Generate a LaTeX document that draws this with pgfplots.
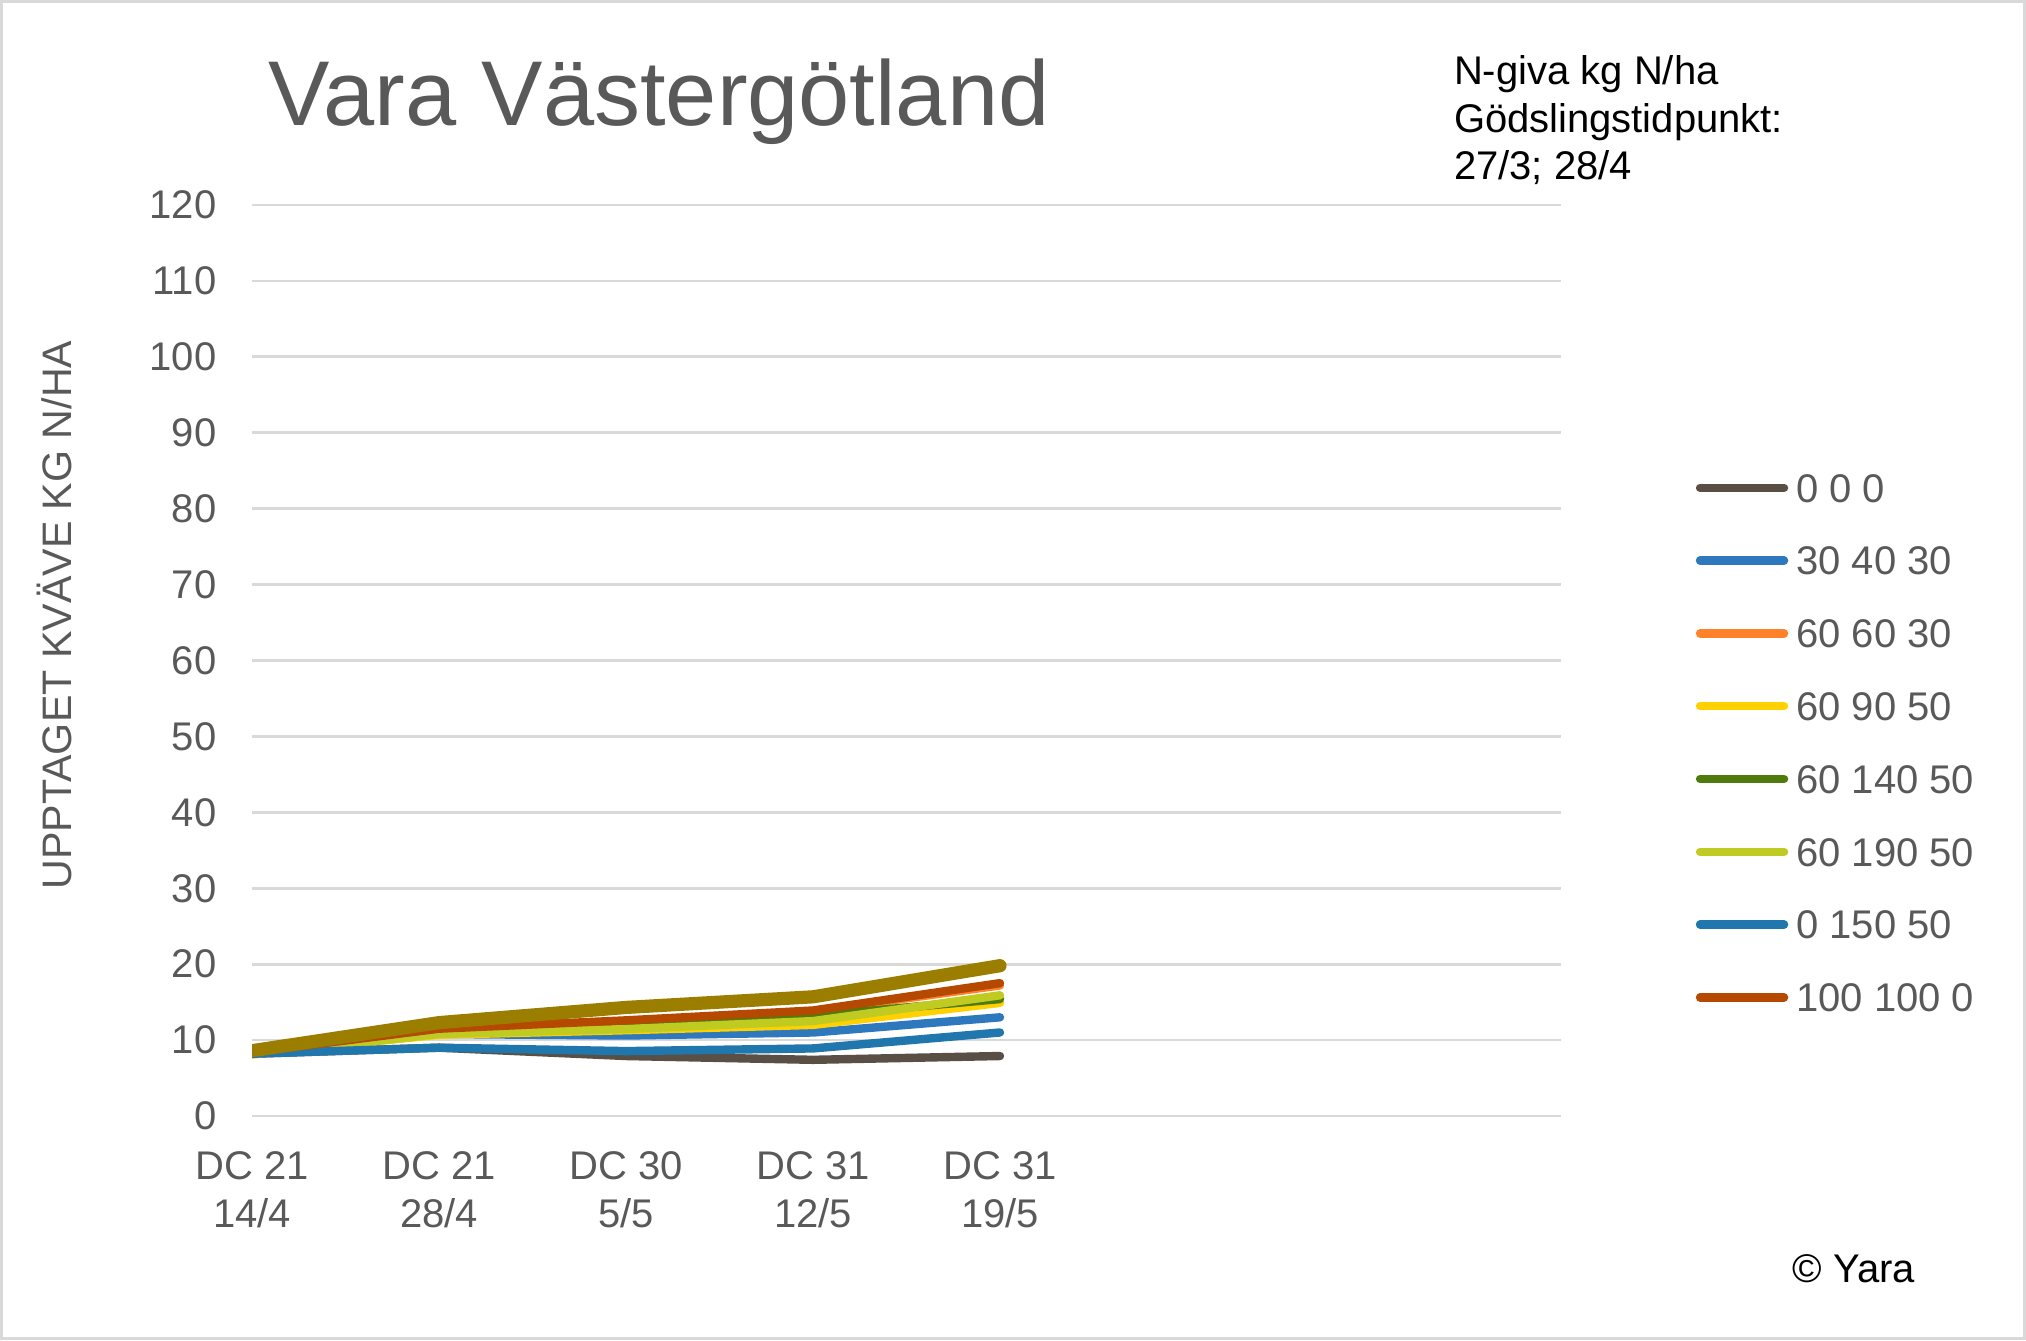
\documentclass[border=0pt]{standalone}
\usepackage{pgfplots}
\usepackage{pgfplotstable}
\pgfplotsset{compat=1.18}
\usepackage{fontspec}
\setmainfont{Liberation Sans}

\definecolor{txtgray}{HTML}{595959}
\definecolor{gridgray}{HTML}{D9D9D9}
\definecolor{cBrown}{HTML}{594F45}
\definecolor{cBlue}{HTML}{2E78BD}
\definecolor{cOrange}{HTML}{FF822B}
\definecolor{cYellow}{HTML}{FFD100}
\definecolor{cDkGreen}{HTML}{4E7B0C}
\definecolor{cLtGreen}{HTML}{C0CB22}
\definecolor{cBlueB}{HTML}{1F77AE}
\definecolor{cDkOrange}{HTML}{B54900}
\definecolor{cOlive}{HTML}{9B7D00}

% upptaget kvave per provtagning (x = 0..4)
\pgfplotstableread{
x   a     b     c     d     e     f     g     h     i
0   8.2   8.2   8.3   8.2   8.3   8.1   8.2   8.4   8.6
1   9.0   10.8  11.2  10.7  11.0  10.8  9.0   11.5  12.3
2   7.9   10.6  12.4  11.3  11.9  11.45 8.55  12.6  14.3
3   7.4   11.0  13.8  12.0  13.2  12.5  8.9   13.9  15.7
4   7.9   13.0  17.2  14.9  15.4  15.9  11.0  17.5  19.8
}\uptag

\begin{document}
\begin{tikzpicture}
\path[use as bounding box] (0,0) rectangle (506.5pt,335pt);
\draw[gridgray, line width=0.75pt] (0.4pt,0.4pt) rectangle (506.1pt,334.6pt);

\begin{axis}[
  at={(63pt,56pt)}, anchor=south west,
  scale only axis,
  width=327.25pt, height=227.75pt,
  xmin=0, xmax=7, ymin=0, ymax=120,
  ytick distance=10,
  xtick={0,1,2,3,4},
  xticklabels={{DC 21\\14/4},{DC 21\\28/4},{DC 30\\5/5},{DC 31\\12/5},{DC 31\\19/5}},
  axis line style={draw=none},
  major tick length=0pt,
  ymajorgrids,
  grid style={gridgray, line width=0.7pt},
  /pgf/number format/assume math mode=true,
  yticklabel style={inner sep=0pt, xshift=-8.7pt, text=txtgray,
    font=\fontsize{10}{12}\selectfont},
  xticklabel style={anchor=north, inner sep=0pt, yshift=-8.8pt, align=center,
    text=txtgray, font=\fontsize{10}{11.8}\selectfont},
  every axis plot/.append style={line width=2.1pt, line cap=round, line join=round},
  legend image code/.code={\draw[#1, line width=2.1pt] (1pt,0pt) -- (22pt,0pt);},
  legend style={at={(axis description cs:1.1024,0.7063)}, anchor=north west,
    draw=none, fill=none, inner sep=0pt, row sep=11pt, column sep=2pt,
    font=\fontsize{10}{12}\selectfont, text=txtgray,
    nodes={inner sep=0pt, text height=7.2pt, text depth=0pt, anchor=west}},
  legend cell align=left,
]
\addplot[cBrown] table[x=x, y=a] {\uptag};
\addlegendentry{0 0 0}
\addplot[cBlue] table[x=x, y=b] {\uptag};
\addlegendentry{30 40 30}
\addplot[cOrange] table[x=x, y=c] {\uptag};
\addlegendentry{60 60 30}
\addplot[cYellow] table[x=x, y=d] {\uptag};
\addlegendentry{60 90 50}
\addplot[cDkGreen] table[x=x, y=e] {\uptag};
\addlegendentry{60 140 50}
\addplot[cLtGreen] table[x=x, y=f] {\uptag};
\addlegendentry{60 190 50}
\addplot[cBlueB] table[x=x, y=g] {\uptag};
\addlegendentry{0 150 50}
\addplot[cDkOrange] table[x=x, y=h] {\uptag};
\addlegendentry{100 100 0}
\addplot[cOlive, line width=3.3pt, forget plot] table[x=x, y=i] {\uptag};
\end{axis}

\node[anchor=base west, inner sep=0pt, text=txtgray, font=\fontsize{23}{27}\selectfont]
  at (67pt,303.5pt) {Vara Västergötland};
\node[anchor=base west, inner sep=0pt, align=left, font=\fontsize{10}{11.9}\selectfont]
  at (363.3pt,290pt) {N-giva kg N/ha\\Gödslingstidpunkt:\\27/3; 28/4};
\node[rotate=90, inner sep=0pt, text=txtgray, font=\fontsize{10.3}{12}\selectfont]
  at (13.5pt,181.25pt) {UPPTAGET KVÄVE KG N/HA};
\node[anchor=base west, inner sep=0pt, font=\fontsize{10}{12}\selectfont]
  at (448pt,14.25pt) {© Yara};
\end{tikzpicture}
\end{document}
